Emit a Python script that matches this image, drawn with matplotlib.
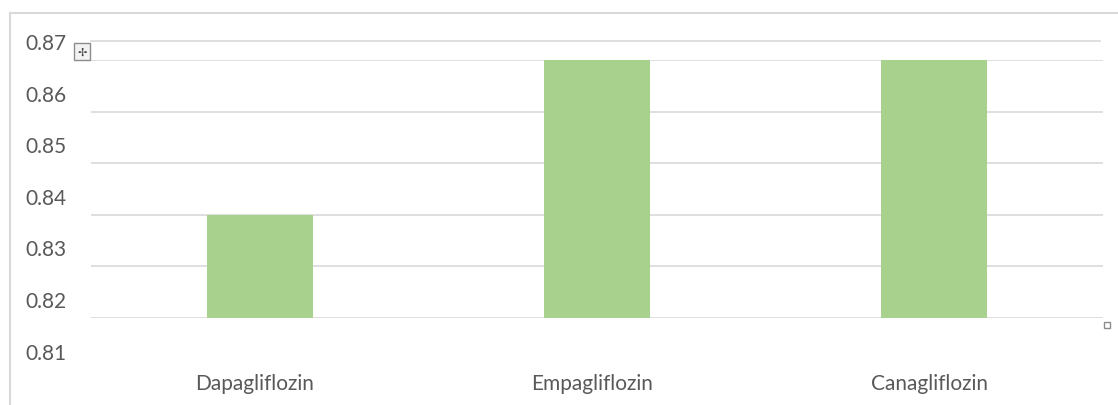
import matplotlib
matplotlib.use("Agg")
import matplotlib.pyplot as plt
from matplotlib.transforms import blended_transform_factory, ScaledTranslation
from matplotlib.patches import Rectangle
from matplotlib.lines import Line2D

# Data
drugs = ["Dapagliflozin", "Empagliflozin", "Canagliflozin"]
values = [0.84, 0.87, 0.87]
tick_values = [0.81, 0.82, 0.83, 0.84, 0.85, 0.86, 0.87]
tick_labels = ["0.81", "0.82", "0.83", "0.84", "0.85", "0.86", "0.87"]

W, H = 1118, 406
fig = plt.figure(figsize=(W / 100, H / 100), dpi=100)
fig.patch.set_facecolor("white")

text_color = "#595959"
grid_color = "#d9d9d9"
bar_color = "#a9d18e"
font = ["Lato", "DejaVu Sans"]

ax = fig.add_axes([91 / W, 1 - 319 / H, (1103 - 91) / W, (319 - 61) / H])
ax.set_xlim(-0.5, len(drugs) - 0.5)
ax.set_ylim(0.82, 0.87)
for s in ax.spines.values():
    s.set_visible(False)
ax.set_xticks([])
ax.set_yticks([])
for v in [0.82, 0.83, 0.84, 0.85, 0.86, 0.87]:
    ax.axhline(v, color=grid_color, lw=1.2, zorder=0)

ax.bar(range(len(drugs)), [v - 0.82 for v in values], bottom=0.82,
       width=0.315, color=bar_color, zorder=2)

# Value axis labels, sitting a little above their gridlines
ytrans = blended_transform_factory(fig.transFigure, ax.transData) + \
    ScaledTranslation(0, 17 / 100, fig.dpi_scale_trans)
for v, lab in zip(tick_values, tick_labels):
    fig.text(66 / W, v, lab, transform=ytrans, ha="right", va="center",
             fontsize=15, color=text_color, family=font)

# Category labels
xtrans = blended_transform_factory(ax.transData, fig.transFigure) + \
    ScaledTranslation(-5 / 100, 0, fig.dpi_scale_trans)
for i, name in enumerate(drugs):
    ax.text(i, 1 - 384 / H, name, transform=xtrans, ha="center", va="center",
            fontsize=15, color=text_color, family=font, clip_on=False)

# Chart frame and plot-area selection marks
fig.add_artist(Line2D([9.5 / W, 9.5 / W], [0, 1 - 14 / H], color=grid_color, lw=1.5))
fig.add_artist(Line2D([9.5 / W, 1], [1 - 14 / H, 1 - 14 / H], color=grid_color, lw=1.5))
fig.add_artist(Line2D([91 / W, 1100 / W], [1 - 42 / H, 1 - 42 / H], color=grid_color, lw=1.2))
fig.add_artist(Rectangle((74 / W, 1 - 61 / H), 16 / W, 17 / H, transform=fig.transFigure,
                         facecolor="#f2f2f2", edgecolor="#8c8c8c", lw=1))
fig.text(82 / W, 1 - 52.5 / H, "\u2722", ha="center", va="center", fontsize=8,
         color="#404040", family=["DejaVu Sans"])
fig.add_artist(Rectangle((1104 / W, 1 - 329 / H), 6 / W, 6 / H, transform=fig.transFigure,
                         facecolor="white", edgecolor="#8c8c8c", lw=1))

fig.savefig("out.png", dpi=100, facecolor="white")
